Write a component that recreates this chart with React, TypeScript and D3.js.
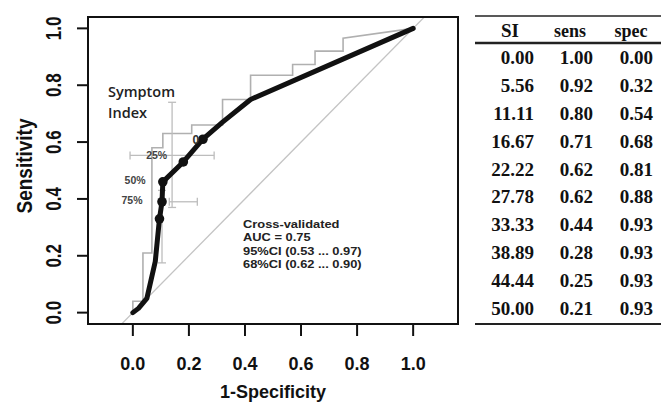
import React from 'react';
import * as d3 from 'd3';

// smoothed ROC curve (1-specificity, sensitivity)
const rocFpr = [0, 0.02, 0.05, 0.08, 0.095, 0.104, 0.107, 0.18, 0.25, 0.32, 0.42, 1.0];
const rocTpr = [0, 0.015, 0.05, 0.18, 0.33, 0.39, 0.46, 0.53, 0.61, 0.67, 0.75, 1.0];

// highlighted cut-points on the curve
const markFpr = [0.095, 0.104, 0.107, 0.18, 0.25];
const markTpr = [0.33, 0.39, 0.46, 0.53, 0.61];

// empirical step curve
const stepFpr = [0, 0, 0.036, 0.036, 0.068, 0.068, 0.107, 0.107, 0.21, 0.21, 0.32, 0.32, 0.42, 0.42, 0.57, 0.57, 0.65, 0.65, 0.75, 0.75, 1.0];
const stepTpr = [0, 0.04, 0.04, 0.21, 0.21, 0.58, 0.58, 0.63, 0.63, 0.66, 0.66, 0.75, 0.75, 0.835, 0.835, 0.873, 0.873, 0.92, 0.92, 0.965, 1.0];

// confidence bars
const vBars = [
  { x: 0.14, y0: 0.37, y1: 0.74 },
  { x: 0.104, y0: 0.175, y1: 0.43 },
];
const hBars = [
  { y: 0.553, x0: -0.01, x1: 0.29 },
  { y: 0.39, x0: 0.13, x1: 0.23 },
];

const pctLabels = ['25%', '50%', '75%'];
const pctFpr = [0.085, 0.008, -0.003];
const pctTpr = [0.553, 0.465, 0.395];

const xTicks = [0, 0.2, 0.4, 0.6, 0.8, 1.0];
const yTicks = [0, 0.2, 0.4, 0.6, 0.8, 1.0];

const aucLines = ['Cross-validated', 'AUC = 0.75', '95%CI (0.53 ... 0.97)', '68%CI (0.62 ... 0.90)'];

const tableHead = ['SI', 'sens', 'spec'];
const siValues = ['0.00', '5.56', '11.11', '16.67', '22.22', '27.78', '33.33', '38.89', '44.44', '50.00'];
const sensValues = ['1.00', '0.92', '0.80', '0.71', '0.62', '0.62', '0.44', '0.28', '0.25', '0.21'];
const specValues = ['0.00', '0.32', '0.54', '0.68', '0.81', '0.88', '0.93', '0.93', '0.93', '0.93'];

const App = () => {
  const box = { left: 88, right: 458, top: 17, bottom: 324 };
  const x = d3.scaleLinear().domain([-0.16, 1.16]).range([box.left, box.right]);
  const y = d3.scaleLinear().domain([-0.04, 1.04]).range([box.bottom, box.top]);

  const line = d3.line<[number, number]>().x(d => x(d[0])).y(d => y(d[1]));
  const rocPath = line(rocFpr.map((v, i) => [v, rocTpr[i]]))!;
  const stepPath = line(stepFpr.map((v, i) => [v, stepTpr[i]]))!;
  const diagPath = line([[-0.1, -0.1], [1.1, 1.1]])!;

  const sans = 'Liberation Sans, Arial, sans-serif';
  const serif = 'Liberation Serif, Times New Roman, serif';
  const grey = '#bdbdbd';
  const cap = 4;

  const colRight = [534, 593, 653];
  const colMid = [510, 570, 631];
  const rowY = d3.scaleLinear().domain([0, 9]).range([64, 315]);

  return (
    <svg width={661} height={404} style={{ position: 'absolute', left: 0, top: 0, background: '#fff' }}>
      <defs>
        <clipPath id="plotClip">
          <rect x={box.left} y={box.top} width={box.right - box.left} height={box.bottom - box.top} />
        </clipPath>
      </defs>

      <g clipPath="url(#plotClip)">
        <path d={diagPath} stroke="#c4c4c4" strokeWidth={1.3} fill="none" />
        <path d={stepPath} stroke="#b0b0b0" strokeWidth={1.6} fill="none" />
        {vBars.map((b, i) => (
          <g key={'v' + i} stroke={grey} strokeWidth={1.3}>
            <line x1={x(b.x)} x2={x(b.x)} y1={y(b.y0)} y2={y(b.y1)} />
            <line x1={x(b.x) - cap} x2={x(b.x) + cap} y1={y(b.y0)} y2={y(b.y0)} />
            <line x1={x(b.x) - cap} x2={x(b.x) + cap} y1={y(b.y1)} y2={y(b.y1)} />
          </g>
        ))}
        {hBars.map((b, i) => (
          <g key={'h' + i} stroke={grey} strokeWidth={1.3}>
            <line x1={x(b.x0)} x2={x(b.x1)} y1={y(b.y)} y2={y(b.y)} />
            <line x1={x(b.x0)} x2={x(b.x0)} y1={y(b.y) - cap} y2={y(b.y) + cap} />
            <line x1={x(b.x1)} x2={x(b.x1)} y1={y(b.y) - cap} y2={y(b.y) + cap} />
          </g>
        ))}
        <path d={rocPath} stroke="#111" strokeWidth={5} fill="none" strokeLinejoin="round" strokeLinecap="round" />
        {markFpr.map((v, i) => (
          <circle key={i} cx={x(v)} cy={y(markTpr[i])} r={4.8} fill="#111" />
        ))}
        <text x={x(0.225)} y={y(0.61) + 4.5} fontFamily={sans} fontSize={12} fontWeight="bold" fill="#333" textAnchor="middle">0</text>
      </g>

      {pctLabels.map((t, i) => (
        <text key={t} x={x(pctFpr[i])} y={y(pctTpr[i]) + 3.5} fontFamily={sans} fontSize={10.5} fontWeight="bold" fill="#444" textAnchor="middle">
          {t}
        </text>
      ))}

      <g fontFamily="Open Sans, sans-serif" fontSize={14.5} fontWeight={600} fill="#222">
        <text x={108} y={97}>Symptom</text>
        <text x={108} y={118}>Index</text>
      </g>

      <g transform="translate(243,0) scale(1.12,1)" fontFamily={sans} fontSize={11.5} fontWeight="bold" fill="#222">
        {aucLines.map((t, i) => (
          <text key={t} x={0} y={228 + i * 13.3}>{t}</text>
        ))}
      </g>

      <rect x={box.left} y={box.top} width={box.right - box.left} height={box.bottom - box.top} fill="none" stroke="#111" strokeWidth={2} />

      {xTicks.map(t => (
        <g key={'xt' + t}>
          <line x1={x(t)} x2={x(t)} y1={box.bottom} y2={box.bottom + 12} stroke="#111" strokeWidth={2} />
          <text x={x(t)} y={370} fontFamily={sans} fontSize={18} fontWeight="bold" fill="#111" textAnchor="middle">
            {t.toFixed(1)}
          </text>
        </g>
      ))}
      {yTicks.map(t => (
        <g key={'yt' + t}>
          <line x1={box.left - 11} x2={box.left} y1={y(t)} y2={y(t)} stroke="#111" strokeWidth={2} />
          <text transform={`translate(61,${y(t)}) rotate(-90) scale(1,1.3)`} fontFamily={sans} fontSize={17} fontWeight="bold" fill="#111" textAnchor="middle">
            {t.toFixed(1)}
          </text>
        </g>
      ))}

      <text x={(box.left + box.right) / 2} y={398} fontFamily={sans} fontSize={18} fontWeight="bold" fill="#111" textAnchor="middle">
        1-Specificity
      </text>
      <text transform={`translate(32,166) rotate(-90) scale(1,1.2)`} fontFamily={sans} fontSize={19} fontWeight="bold" fill="#111" textAnchor="middle">
        Sensitivity
      </text>

      {/* table */}
      <line x1={475} x2={661} y1={16} y2={16} stroke="#222" strokeWidth={1.5} />
      <line x1={475} x2={661} y1={43} y2={43} stroke="#222" strokeWidth={2.5} />
      <line x1={475} x2={661} y1={324} y2={324} stroke="#222" strokeWidth={2} />
      {tableHead.map((h, i) => (
        <text key={h} x={colMid[i]} y={37} fontFamily={serif} fontSize={h === 'SI' ? 19 : 18} fontWeight="bold" fill="#111" textAnchor="middle">
          {h}
        </text>
      ))}
      <g fontFamily={serif} fontSize={19} fontWeight="bold" fill="#111" textAnchor="end">
        {siValues.map((v, i) => (
          <g key={i}>
            <text x={colRight[0]} y={rowY(i)}>{v}</text>
            <text x={colRight[1]} y={rowY(i)}>{sensValues[i]}</text>
            <text x={colRight[2]} y={rowY(i)}>{specValues[i]}</text>
          </g>
        ))}
      </g>
    </svg>
  );
};

export default App;
